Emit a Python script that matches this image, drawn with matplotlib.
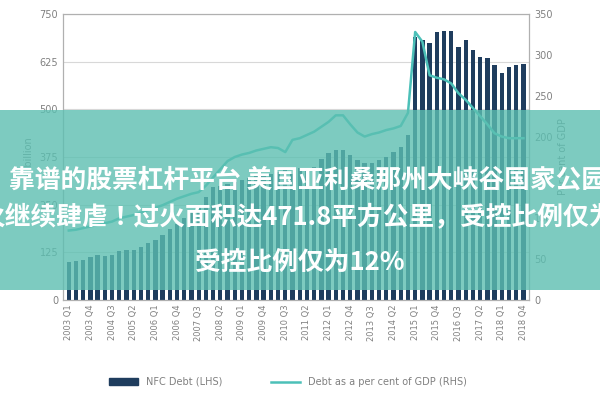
import numpy as np
import matplotlib.pyplot as plt
from matplotlib.patches import Rectangle, Patch
from matplotlib.lines import Line2D

# ── Data ──────────────────────────────────────────────────────────────────────
quarters = [f'{y} Q{q}' for y in range(2003, 2019) for q in range(1, 5)]
nfc_debt = [100, 103, 105, 113, 117, 115, 118, 128, 130, 131, 140, 150, 158, 170, 185, 200,
            215, 230, 250, 270, 296, 300, 305, 310, 315, 320, 325, 330, 330, 335, 340, 330,
            345, 345, 349, 370, 385, 393, 393, 380, 367, 359, 358, 367, 375, 388, 401, 433,
            690, 682, 674, 703, 706, 706, 663, 682, 655, 637, 634, 616, 595, 612, 616, 620]
debt_gdp = [85, 86, 88, 90, 92, 94, 96, 100, 102, 104, 107, 110, 113, 116, 120, 124,
            127, 130, 132, 140, 150, 160, 170, 175, 178, 180, 183, 185, 187, 186, 181, 196,
            198, 202, 206, 212, 218, 226, 226, 215, 205, 200, 203, 205, 208, 210, 213, 229,
            328, 316, 275, 272, 270, 265, 253, 245, 235, 225, 215, 204, 200, 198, 198, 198]
left_ticks = [0, 125, 250, 375, 500, 625, 750]
right_ticks = [0, 50, 100, 150, 200, 250, 300, 350]

BAR = '#1f3d5e'
LINE = '#4cc0b8'
GREY = '#808080'

fig = plt.figure(figsize=(6, 4), dpi=100, facecolor='white')
ax = fig.add_axes([0.105, 0.25, 0.777, 0.715])
x = np.arange(len(quarters))
ax.bar(x, nfc_debt, width=0.6, color=BAR, zorder=2)
ax.set_ylim(0, 750)
ax.set_yticks(left_ticks)
ax.set_xlim(-0.8, len(quarters) - 0.2)
ax.set_xticks(x[::3])
ax.set_xticklabels(quarters[::3], rotation=90, fontsize=6, color=GREY)
ax.tick_params(axis='y', labelsize=7, colors=GREY, length=0)
ax.tick_params(axis='x', length=0)
ax.grid(axis='y', color='#d8d8d8', lw=0.8, zorder=0)
for s in ax.spines.values():
    s.set_edgecolor('#b0b0b0')
ax.set_ylabel('£ billion', fontsize=7, color=GREY)

ax2 = ax.twinx()
ax2.plot(x, debt_gdp, color=LINE, lw=1.8, zorder=3)
ax2.set_ylim(0, 350)
ax2.set_yticks(right_ticks)
ax2.tick_params(axis='y', labelsize=7, colors=GREY, length=0)
ax2.set_ylabel('Per cent of GDP', fontsize=7, color=GREY)
for s in ax2.spines.values():
    s.set_edgecolor('#b0b0b0')

fig.legend(handles=[Patch(color=BAR, label='NFC Debt (LHS)'),
                    Line2D([0], [0], color=LINE, lw=1.8, label='Debt as a per cent of GDP (RHS)')],
           loc='center', bbox_to_anchor=(0.48, 0.045), ncol=2, frameon=False,
           fontsize=7, labelcolor=GREY, handlelength=3, columnspacing=5)

# ── Banner overlay ────────────────────────────────────────────────────────────
fig.patches.append(Rectangle((0, 0.275), 1, 0.45, transform=fig.transFigure,
                             facecolor='#5cbfb1', alpha=0.8, zorder=10))
font = dict(family=['Noto Sans CJK SC', 'Noto Sans CJK JP', 'DejaVu Sans'],
            weight='bold', color='white', fontsize=18.5, zorder=11)
fig.text(0.015, 0.55, '靠谱的股票杠杆平台 美国亚利桑那州大峡谷国家公园', ha='left', va='center', **font)
fig.text(-0.035, 0.455, '火继续肆虐！过火面积达471.8平方公里，受控比例仅为12%', ha='left', va='center', **font)
fig.text(0.5, 0.345, '受控比例仅为12%', ha='center', va='center', **font)

plt.savefig('out.png', dpi=100, facecolor='white')
